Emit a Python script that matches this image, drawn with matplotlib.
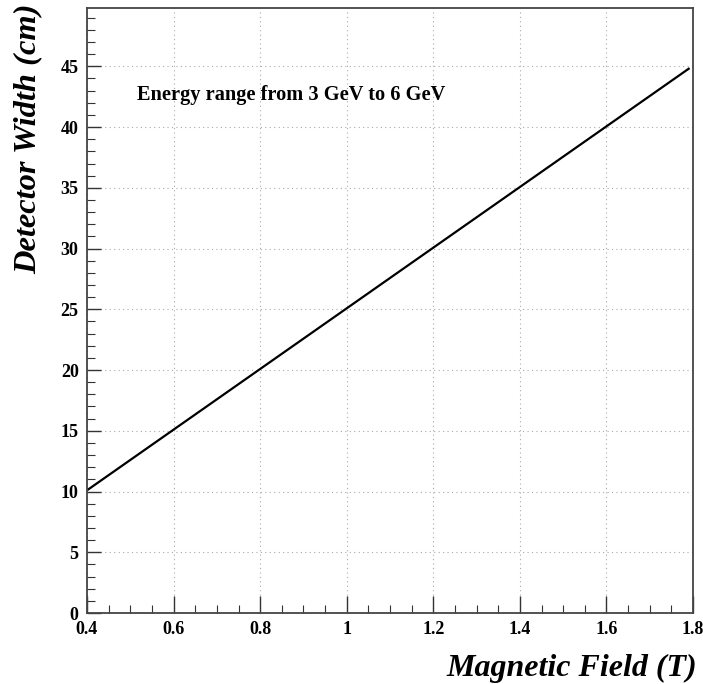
import matplotlib
matplotlib.use('Agg')
import matplotlib.pyplot as plt
from matplotlib.ticker import MultipleLocator

# dados
campo_magnetico = [0.4, 1.79]
largura_detector = [10.1, 44.8]
texto_energia = 'Energy range from 3 GeV to 6 GeV'

fig = plt.figure(figsize=(7.03, 6.84), dpi=100)
ax = fig.add_axes([87 / 703, 1 - 613 / 684, 606 / 703, 605 / 684])

serif = ['Liberation Serif', 'DejaVu Serif']

ax.plot(campo_magnetico, largura_detector, color='black', lw=1.6)

ax.set_xlim(0.4, 1.8)
ax.set_ylim(0, 49.8)
ax.xaxis.set_major_locator(MultipleLocator(0.2))
ax.xaxis.set_minor_locator(MultipleLocator(0.05))
ax.yaxis.set_major_locator(MultipleLocator(5))
ax.yaxis.set_minor_locator(MultipleLocator(1))

ax.set_xticks([0.4, 0.6, 0.8, 1.0, 1.2, 1.4, 1.6, 1.8])
ax.set_xticklabels(['0.4', '0.6', '0.8', '1', '1.2', '1.4', '1.6', '1.8'])

ax.tick_params(which='both', direction='in', top=False, right=False, color='#333333')
ax.tick_params(axis='x', which='major', length=12, width=1, pad=6)
ax.tick_params(axis='y', which='major', length=10, width=1, pad=6)
ax.tick_params(which='minor', length=6, width=0.8)
for lab in ax.get_xticklabels() + ax.get_yticklabels():
    lab.set_family(serif)
    lab.set_fontweight('bold')
    lab.set_fontsize(13)

ax.grid(True, which='major', color='#aaaaaa', ls=(0, (1, 3)), lw=0.8)

for s in ax.spines.values():
    s.set_linewidth(1.3)
    s.set_color('#444444')

ax.text(0.083, 0.856, texto_energia, transform=ax.transAxes, family=serif,
        fontweight='bold', fontsize=14.7, ha='left', va='center')

fig.text(697 / 703, 1 - 668 / 684, 'Magnetic Field (T)', family=serif,
         fontweight='bold', style='italic', fontsize=23, ha='right', va='center')
fig.text(28 / 703, 1 - 4 / 684, 'Detector Width (cm)', family=serif,
         fontweight='bold', style='italic', fontsize=23.4, ha='center', va='top',
         rotation=90)

fig.savefig('out.png', dpi=100)
